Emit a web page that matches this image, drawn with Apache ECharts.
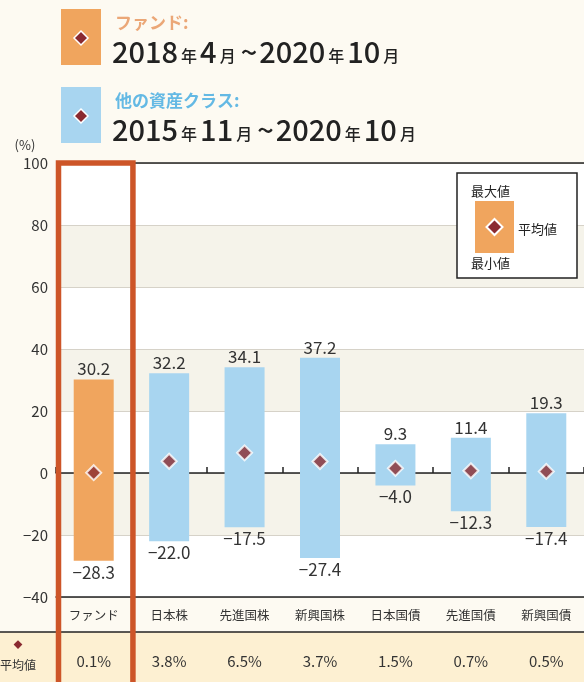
<!DOCTYPE html>
<html><head><meta charset="utf-8">
<script src="https://cdn.jsdelivr.net/npm/echarts@6/dist/echarts.min.js"></script>
<style>html,body{margin:0;padding:0;background:#fdfaf2;}#c{width:584px;height:682px;}</style>
</head><body><div id="c"></div>
<script>
const categories = ['ファンド','日本株','先進国株','新興国株','日本国債','先進国債','新興国債'];
const maxValues = [30.2, 32.2, 34.1, 37.2, 9.3, 11.4, 19.3];
const minValues = [-28.3, -22.0, -17.5, -27.4, -4.0, -12.3, -17.4];
const avgValues = [0.1, 3.8, 6.5, 3.7, 1.5, 0.7, 0.5];
const yTicks = {min: -40, max: 100, interval: 20};

const FONT = '"Noto Sans CJK JP", "Noto Sans", sans-serif';
const ORANGE = '#f0a55e';
const BLUE = '#a8d5f0';
const DIAMOND = '#8a2a30';
const fmt = v => v < 0 ? '\u2212' + Math.abs(v).toFixed(1) : v.toFixed(1);

const chart = echarts.init(document.getElementById('c'));
const GL = 56, GT = 163, GB = 85;

const option = {
  backgroundColor: '#fdfaf2',
  animation: false,
  textStyle: {fontFamily: FONT},
  grid: {left: GL, right: -4, top: GT, bottom: GB, containLabel: false},
  xAxis: [{
    type: 'category', data: categories, position: 'bottom',
    axisLine: {show: true, onZero: false, lineStyle: {color: '#222', width: 1.5}},
    axisTick: {show: false},
    axisLabel: {color: '#333', fontSize: 12.5, margin: 12, fontFamily: FONT},
    splitLine: {show: false}
  }, {
    type: 'category', data: categories, position: 'bottom',
    axisLine: {show: true, onZero: true, lineStyle: {color: '#222', width: 1.5}},
    axisTick: {show: true, inside: true, length: 6, alignWithLabel: false, lineStyle: {color: '#222', width: 1.5}},
    axisLabel: {show: false}
  }],
  yAxis: {
    type: 'value', min: yTicks.min, max: yTicks.max, interval: yTicks.interval,
    axisLine: {show: false}, axisTick: {show: false},
    axisLabel: {color: '#333', fontSize: 15, margin: 8, fontFamily: FONT,
      formatter: v => v < 0 ? '\u2212' + Math.abs(v) : String(v)},
    splitLine: {show: true, lineStyle: {color: '#d6d2c8', width: 1}},
    splitArea: {show: true, areaStyle: {color: ['#ffffff', '#f5f3ea']}}
  },
  series: [{
    type: 'bar', name: 'max', data: maxValues.map((v, i) => ({value: v, itemStyle: {color: i === 0 ? ORANGE : BLUE}})),
    barWidth: 40, barGap: '-100%', z: 2,
    label: {show: true, position: 'top', distance: 2, color: '#333', fontSize: 17, fontFamily: FONT, formatter: p => fmt(p.value)}
  }, {
    type: 'bar', name: 'min', data: minValues.map((v, i) => ({value: v, itemStyle: {color: i === 0 ? ORANGE : BLUE}})),
    barWidth: 40, barGap: '-100%', z: 2,
    label: {show: true, position: 'bottom', distance: 3, color: '#333', fontSize: 17, fontFamily: FONT, formatter: p => fmt(p.value)}
  }, {
    type: 'scatter', name: 'avg', data: avgValues, symbol: 'diamond', symbolSize: 15, z: 5,
    itemStyle: {color: DIAMOND, borderColor: '#fff', borderWidth: 2}
  }]
};
chart.setOption(option);

const yTop = chart.convertToPixel({yAxisIndex: 0}, yTicks.max);
const step = chart.convertToPixel({xAxisIndex: 0}, categories[1]) - chart.convertToPixel({xAxisIndex: 0}, categories[0]);
const x0 = chart.convertToPixel({xAxisIndex: 0}, categories[0]);
const rowTop = 632;

function diamond(cx, cy, r, lw) {
  return {type: 'polygon', shape: {points: [[cx, cy - r], [cx + r, cy], [cx, cy + r], [cx - r, cy]]},
          style: {fill: DIAMOND, stroke: '#fff', lineWidth: lw}, z: 12};
}

const g = [];
g.push({type: 'line', shape: {x1: x0 - step / 2, y1: yTop, x2: 584, y2: yTop}, style: {stroke: '#222', lineWidth: 1.5}, z: 10});
g.push({type: 'rect', shape: {x: 0, y: rowTop, width: 584, height: 682 - rowTop}, style: {fill: '#fdf0d2'}, z: 1});
g.push({type: 'line', shape: {x1: 0, y1: rowTop, x2: 584, y2: rowTop}, style: {stroke: '#222', lineWidth: 1.5}, z: 10});
avgValues.forEach((v, i) => {
  const x = chart.convertToPixel({xAxisIndex: 0}, categories[i]);
  g.push({type: 'text', x: x, y: 661, style: {text: v.toFixed(1) + '%', fill: '#333', font: '15px ' + FONT, align: 'center', verticalAlign: 'middle'}, z: 10});
});
g.push({type: 'text', x: 18, y: 645, style: {text: '◆', fill: DIAMOND, font: '9px ' + FONT, align: 'center', verticalAlign: 'middle'}, z: 10});
g.push({type: 'text', x: 18, y: 665, style: {text: '平均値', fill: '#333', font: '12px ' + FONT, align: 'center', verticalAlign: 'middle'}, z: 10});
g.push({type: 'rect', shape: {x: x0 - step / 2 + 2.5, y: yTop, width: step - 1, height: 700 - yTop}, style: {fill: null, stroke: '#cd5528', lineWidth: 5.5}, z: 20});
g.push({type: 'text', x: 25, y: 145, style: {text: '(%)', fill: '#333', font: '13px ' + FONT, align: 'center', verticalAlign: 'middle'}, z: 10});
// inner legend box
g.push({type: 'rect', shape: {x: 457, y: 173, width: 120, height: 105}, style: {fill: '#fff', stroke: '#222', lineWidth: 1.5}, z: 10});
g.push({type: 'rect', shape: {x: 475, y: 201, width: 39, height: 52}, style: {fill: ORANGE}, z: 11});
g.push({type: 'text', x: 471, y: 191, style: {text: '最大値', fill: '#222', font: '13px ' + FONT, align: 'left', verticalAlign: 'middle'}, z: 12});
g.push({type: 'text', x: 471, y: 263, style: {text: '最小値', fill: '#222', font: '13px ' + FONT, align: 'left', verticalAlign: 'middle'}, z: 12});
g.push({type: 'text', x: 518, y: 229, style: {text: '平均値', fill: '#222', font: '13px ' + FONT, align: 'left', verticalAlign: 'middle'}, z: 12});
g.push(diamond(494.5, 227, 8, 2));
// top legend
function legendItem(y, color, title, titleColor, parts) {
  g.push({type: 'rect', shape: {x: 61, y: y, width: 40, height: 56}, style: {fill: color}, z: 10});
  g.push(diamond(81, y + 29, 7, 1.5));
  g.push({type: 'text', x: 115, y: y + 14, style: {text: title, fill: titleColor, font: 'bold 17px ' + FONT, align: 'left', verticalAlign: 'middle'}, z: 10});
  g.push({type: 'text', x: 112, y: y + 43, style: {
    text: parts, align: 'left', verticalAlign: 'middle',
    rich: {a: {fontSize: 29, fontWeight: 500, fill: '#222', fontFamily: FONT, verticalAlign: 'bottom'},
           b: {fontSize: 16, fontWeight: 500, fill: '#222', fontFamily: FONT, verticalAlign: 'bottom', padding: [0, 3, 3, 3]},
           t: {fontSize: 29, fontWeight: 500, fill: '#222', fontFamily: FONT, verticalAlign: 'bottom', padding: [0, 2, 0, 2]}}
  }, z: 10});
}
legendItem(9, ORANGE, 'ファンド:', '#eba777', '{a|2018}{b|年}{a|4}{b|月}{t|~}{a|2020}{b|年}{a|10}{b|月}');
legendItem(87, BLUE, '他の資産クラス:', '#64b9e4', '{a|2015}{b|年}{a|11}{b|月}{t|~}{a|2020}{b|年}{a|10}{b|月}');

chart.setOption({graphic: g});
</script>
</body></html>
